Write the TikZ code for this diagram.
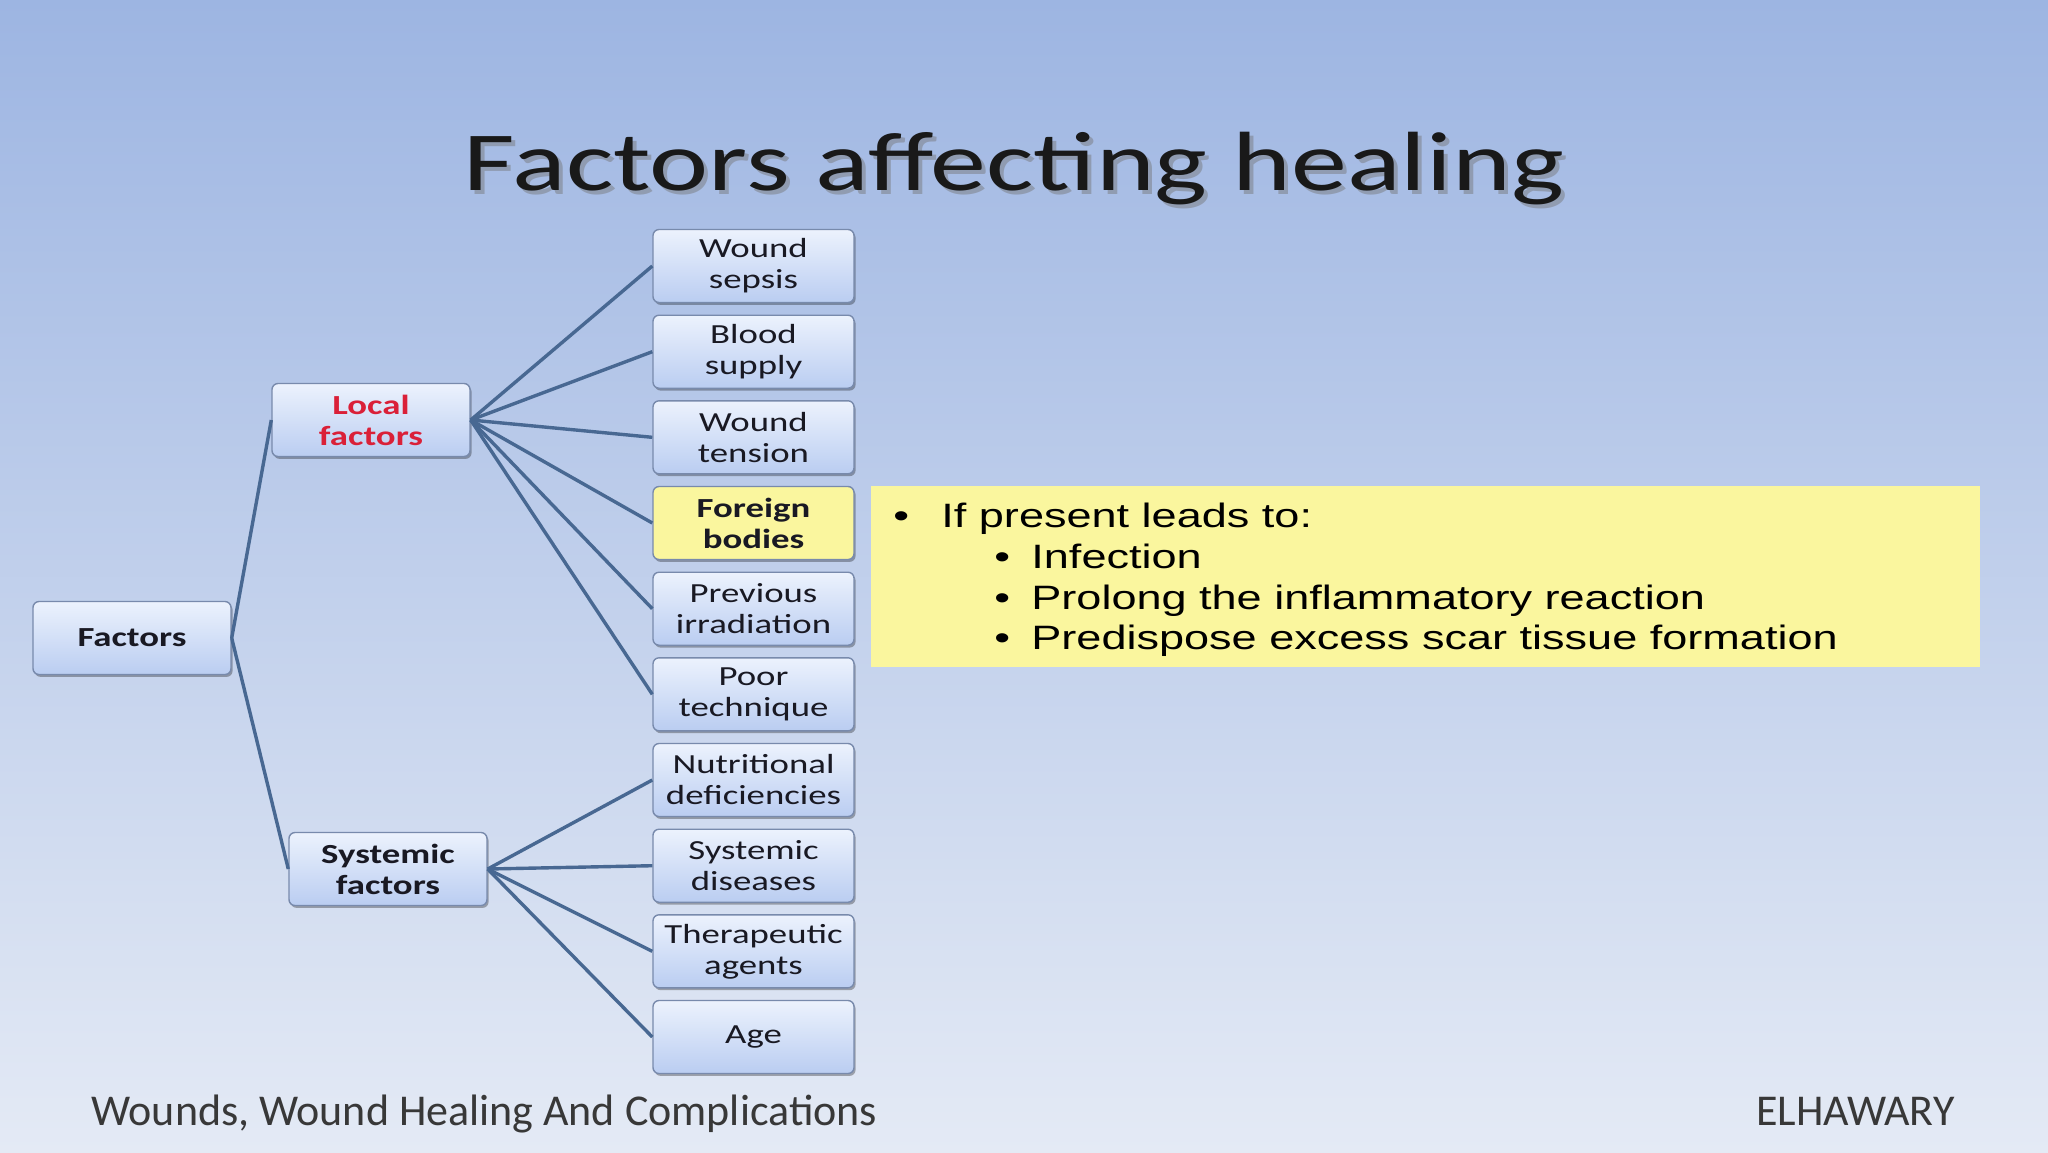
\documentclass[tikz,border=0pt]{standalone}
\usepackage{fontspec}
\usepackage{tikz}
\usetikzlibrary{shadows}
\setmainfont{Carlito}[FakeStretch=1.333]
\newfontfamily\arialfont{Liberation Sans}[FakeStretch=1.333]
\newfontfamily\footfont{Carlito}
\definecolor{bgtop}{RGB}{157,181,226}
\definecolor{bgbot}{RGB}{228,234,245}
\definecolor{boxtop}{RGB}{236,242,253}
\definecolor{boxbot}{RGB}{186,205,241}
\definecolor{boxline}{RGB}{120,138,172}
\definecolor{linkblue}{RGB}{72,104,146}
\definecolor{notefill}{RGB}{250,246,158}
\definecolor{localred}{RGB}{218,32,56}
\definecolor{inkdark}{RGB}{25,25,35}
\tikzset{
  box/.style={draw=boxline,line width=0.7pt,rounded corners=3pt,
    top color=boxtop,bottom color=boxbot,
    drop shadow={shadow xshift=0.8pt,shadow yshift=-1.2pt,fill=black,opacity=0.3},
    minimum width=99pt,minimum height=36.5pt,inner xsep=2pt,align=center,
    text=inkdark,font=\fontsize{13.8}{15.5}\selectfont},
  rightbox/.style={box,minimum width=100.5pt},
  notebox/.style={rightbox,top color=notefill,bottom color=notefill},
  link/.style={draw=linkblue,line width=1.7pt},
  notetext/.style={anchor=base west,inner sep=0pt,text=black,
    font=\arialfont\fontsize{16.9}{20}\selectfont}
}
\begin{document}
\begin{tikzpicture}[x=0.5pt,y=-0.5pt]
\useasboundingbox (0,0) rectangle (2048,1152);
% background and title
\shade[top color=bgtop,bottom color=bgbot] (0,0) rectangle (2048,1152);
\node[anchor=base,inner sep=0pt,text=black!55,opacity=0.45,font=\fontsize{42}{50}\selectfont]
  at (1018,194) {Factors affecting healing};
\node[anchor=base,inner sep=0pt,text=black!90,font=\fontsize{42}{50}\selectfont]
  (title) at (1014,190) {Factors affecting healing};
% tree
\node[box] (factors) at (132,638) {\textbf{Factors}};
\node[box] (local) at (371,420) {\textbf{\color{localred}Local}\\\textbf{\color{localred}factors}};
\node[box] (systemic) at (388,869) {\textbf{Systemic}\\\textbf{factors}};
\node[rightbox] (sepsis) at (753.5,266) {Wound\\sepsis};
\node[rightbox] (blood) at (753.5,351.7) {Blood\\supply};
\node[rightbox] (tension) at (753.5,437.3) {Wound\\tension};
\node[notebox] (foreign) at (753.5,523) {\textbf{Foreign}\\\textbf{bodies}};
\node[rightbox] (irradiation) at (753.5,608.7) {Previous\\irradiation};
\node[rightbox] (technique) at (753.5,694.3) {Poor\\technique};
\node[rightbox] (nutrition) at (753.5,780) {Nutritional\\deficiencies};
\node[rightbox] (diseases) at (753.5,865.7) {Systemic\\diseases};
\node[rightbox] (agents) at (753.5,951.3) {Therapeutic\\agents};
\node[rightbox] (age) at (753.5,1037) {Age};
% connectors
\path[link] (factors.east) -- (local.west);
\path[link] (factors.east) -- (systemic.west);
\path[link] (local.east) -- (sepsis.west);
\path[link] (local.east) -- (blood.west);
\path[link] (local.east) -- (tension.west);
\path[link] (local.east) -- (foreign.west);
\path[link] (local.east) -- (irradiation.west);
\path[link] (local.east) -- (technique.west);
\path[link] (systemic.east) -- (nutrition.west);
\path[link] (systemic.east) -- (diseases.west);
\path[link] (systemic.east) -- (agents.west);
\path[link] (systemic.east) -- (age.west);
% note on foreign bodies
\path[fill=notefill] (871,486) rectangle (1980,667);
\node[notetext] (n0) at (893,527) {\textbullet};
\node[notetext] (n1) at (941,527) {If present leads to:};
\node[notetext] (b2) at (994,568) {\textbullet};
\node[notetext] (n2) at (1031,568) {Infection};
\node[notetext] (b3) at (994,609) {\textbullet};
\node[notetext] (n3) at (1031,609) {Prolong the inflammatory reaction};
\node[notetext] (b4) at (994,649) {\textbullet};
\node[notetext] (n4) at (1031,649) {Predispose excess scar tissue formation};
% footer
\node[anchor=base west,inner sep=0pt,text=black!78,font=\footfont\fontsize{22}{26}\selectfont]
  (subject) at (91,1125) {Wounds, Wound Healing And Complications};
\node[anchor=base east,inner sep=0pt,text=black!78,font=\footfont\fontsize{22}{26}\selectfont]
  (author) at (1955,1125) {ELHAWARY};
\end{tikzpicture}
\end{document}
